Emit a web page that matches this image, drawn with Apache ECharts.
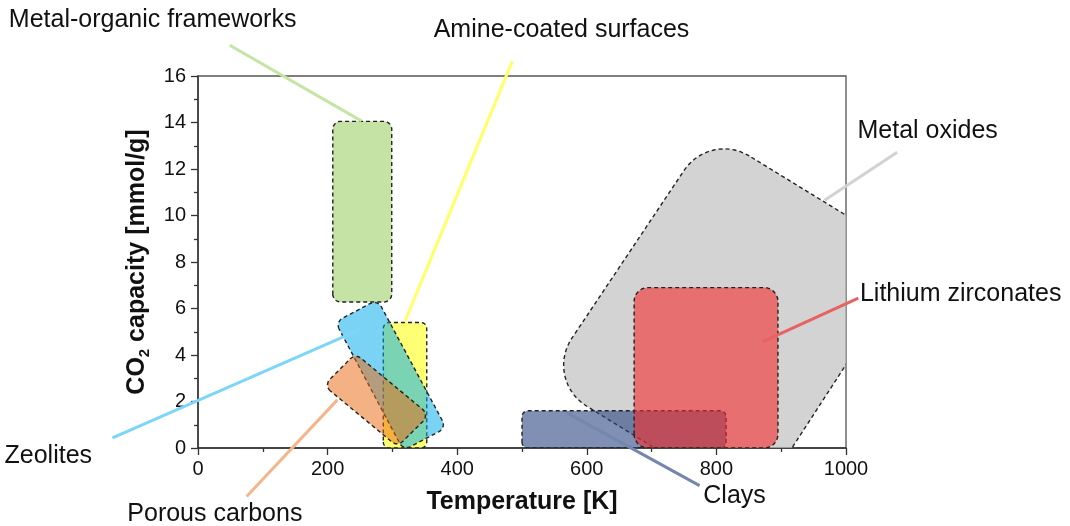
<!DOCTYPE html>
<html>
<head>
<meta charset="utf-8">
<script src="https://cdn.jsdelivr.net/npm/echarts@6/dist/echarts.min.js"></script>
<style>
  html, body { margin: 0; padding: 0; background: #ffffff; }
  #chart { width: 1070px; height: 526px; }
</style>
</head>
<body>
<div id="chart"></div>
<script>
// CO2 sorbent families: working temperature [K] against CO2 capacity [mmol/g]
const categories = [
  'Metal oxides', 'Clays', 'Lithium zirconates', 'Metal-organic frameworks',
  'Amine-coated surfaces', 'Zeolites', 'Porous carbons'
];

// Region outlines, corner points as [temperature K, capacity mmol/g]
const metalOxides = [[790, 13.6], [534, 2.93], [856, -2.6], [1107, 8.18]];
const clays = [[500, 0], [815, 0], [815, 1.6], [500, 1.6]];
const lithiumZirconates = [[673, 0], [895, 0], [895, 6.9], [673, 6.9]];
const metalOrganicFrameworks = [[208, 6.28], [299, 6.28], [299, 14.05], [208, 14.05]];
const amineCoatedSurfaces = [[286, 0], [353, 0], [353, 5.4], [286, 5.4]];
const zeolites = [[212, 5.42], [277, 6.38], [383, 0.87], [317, -0.1]];
const porousCarbons = [[194, 2.69], [243, 4.06], [357, 1.42], [308, 0.06]];

const regions = [metalOxides, clays, lithiumZirconates, metalOrganicFrameworks,
  amineCoatedSurfaces, zeolites, porousCarbons];

// Leader lines: [label end, region end] in the same units
const leaderMetalOxides = [[1079, 12.72], [967, 10.66]];
const leaderClays = [[774, -1.62], [569, 1.52]];
const leaderLithium = [[1019, 6.45], [871, 4.56]];
const leaderMOF = [[49, 17.32], [252, 14.07]];
const leaderAmine = [[485, 16.63], [319, 5.42]];
const leaderZeolites = [[-132, 0.44], [249, 5.08]];
const leaderCarbons = [[75, -2.09], [215, 2.07]];

const leaders = [leaderMetalOxides, leaderClays, leaderLithium, leaderMOF,
  leaderAmine, leaderZeolites, leaderCarbons];

// Label centres
const labelPoints = [[1126, 13.62], [828, -2.09], [1177, 6.63], [-70, 18.39],
  [561, 17.96], [-231, -0.33], [26, -2.86]];

// Axis ranges
const xRange = [0, 1000];
const yRange = [0, 16];

// ---- styling ----
const fills = [
  'rgba(192,192,192,0.7)', 'rgba(42,70,130,0.6)', 'rgba(245,45,45,0.6)',
  'rgba(140,200,75,0.5)', 'rgba(255,255,0,0.55)', 'rgba(0,170,236,0.52)',
  'rgba(234,105,17,0.52)'
];
const cornerRadius = [48, 6, 14, 8, 6, 8, 8];
const leaderColors = ['#d2d2d2', '#7587ad', '#e86262', '#c5e5a5', '#ffff66', '#7dd6f7', '#f5b48a'];
const FONT = '"Liberation Sans", Arial, Helvetica, sans-serif';

// Polygon with circular-arc corners, worked out in pixel space
function roundedPoints(pts, r) {
  const out = [];
  const n = pts.length;
  for (let i = 0; i < n; i++) {
    const p = pts[i], a = pts[(i + n - 1) % n], b = pts[(i + 1) % n];
    const ax = a[0] - p[0], ay = a[1] - p[1], bx = b[0] - p[0], by = b[1] - p[1];
    const la = Math.hypot(ax, ay), lb = Math.hypot(bx, by);
    const uax = ax / la, uay = ay / la, ubx = bx / lb, uby = by / lb;
    const cosT = Math.max(-1, Math.min(1, uax * ubx + uay * uby));
    const theta = Math.acos(cosT);
    let t = r / Math.tan(theta / 2);
    t = Math.min(t, la / 2, lb / 2);
    const rr = t * Math.tan(theta / 2);
    const t1 = [p[0] + uax * t, p[1] + uay * t];
    const t2 = [p[0] + ubx * t, p[1] + uby * t];
    let bxs = uax + ubx, bys = uay + uby;
    const bl = Math.hypot(bxs, bys);
    bxs /= bl; bys /= bl;
    const cd = rr / Math.sin(theta / 2);
    const c = [p[0] + bxs * cd, p[1] + bys * cd];
    const a1 = Math.atan2(t1[1] - c[1], t1[0] - c[0]);
    const a2 = Math.atan2(t2[1] - c[1], t2[0] - c[0]);
    let d = a2 - a1;
    while (d > Math.PI) d -= 2 * Math.PI;
    while (d < -Math.PI) d += 2 * Math.PI;
    const steps = 14;
    for (let k = 0; k <= steps; k++) {
      const ang = a1 + d * k / steps;
      out.push([c[0] + rr * Math.cos(ang), c[1] + rr * Math.sin(ang)]);
    }
  }
  return out;
}

const chart = echarts.init(document.getElementById('chart'), null, { renderer: 'canvas' });

const option = {
  animation: false,
  backgroundColor: '#ffffff',
  grid: {
    left: 198, right: 224, top: 76, bottom: 78,
    show: true, borderColor: '#555555', borderWidth: 1.3, backgroundColor: 'transparent'
  },
  xAxis: {
    type: 'value', min: xRange[0], max: xRange[1], interval: 200,
    name: 'Temperature [K]', nameLocation: 'middle', nameGap: 42,
    nameTextStyle: { fontFamily: FONT, fontSize: 25, fontWeight: 'bold', color: '#111' },
    axisLine: { show: true, onZero: false, lineStyle: { color: '#333', width: 1.5 } },
    axisTick: { show: true, inside: false, length: 7, lineStyle: { color: '#333', width: 1.3 } },
    minorTick: { show: true, splitNumber: 2, length: 4, lineStyle: { color: '#333', width: 1.3 } },
    splitLine: { show: false },
    axisLabel: { fontFamily: FONT, fontSize: 20, color: '#111', margin: 11, formatter: v => String(v) }
  },
  yAxis: {
    type: 'value', min: yRange[0], max: yRange[1], interval: 2,
    name: '{a|CO}{s|2}{a| capacity [mmol/g]}', nameLocation: 'middle', nameGap: 46,
    nameRotate: 90,
    nameTextStyle: {
      rich: {
        a: { fontFamily: FONT, fontSize: 25, fontWeight: 'bold', color: '#111', lineHeight: 30 },
        s: { fontFamily: FONT, fontSize: 15, fontWeight: 'bold', color: '#111', lineHeight: 14, verticalAlign: 'bottom' }
      }
    },
    axisLine: { show: true, onZero: false, lineStyle: { color: '#333', width: 1.5 } },
    axisTick: { show: true, inside: false, length: 7, lineStyle: { color: '#333', width: 1.3 } },
    minorTick: { show: true, splitNumber: 2, length: 4, lineStyle: { color: '#333', width: 1.3 } },
    splitLine: { show: false },
    axisLabel: { fontFamily: FONT, fontSize: 20, color: '#111', margin: 12, formatter: v => String(v) }
  },
  series: [
    {
      // shaded regions, clipped to the plotting area
      type: 'custom',
      clip: true,
      z: 2,
      data: regions.map((_, i) => [i]),
      renderItem: function (params, api) {
        const i = params.dataIndex;
        const px = regions[i].map(pt => api.coord(pt));
        return {
          type: 'polygon',
          shape: { points: roundedPoints(px, cornerRadius[i]) },
          style: { fill: fills[i], stroke: '#222222', lineWidth: 1.4, lineDash: [4, 3] }
        };
      }
    },
    {
      // leader lines out to the labels
      type: 'custom',
      clip: false,
      z: 5,
      data: leaders.map((_, i) => [i]),
      renderItem: function (params, api) {
        const i = params.dataIndex;
        const p0 = api.coord(leaders[i][0]);
        const p1 = api.coord(leaders[i][1]);
        return {
          type: 'line',
          shape: { x1: p0[0], y1: p0[1], x2: p1[0], y2: p1[1] },
          style: { stroke: leaderColors[i], lineWidth: 3 }
        };
      }
    },
    {
      // category names
      type: 'custom',
      clip: false,
      z: 6,
      data: labelPoints.map((_, i) => [i]),
      renderItem: function (params, api) {
        const i = params.dataIndex;
        const p = api.coord(labelPoints[i]);
        return {
          type: 'text',
          x: p[0], y: p[1],
          style: {
            text: categories[i], fill: '#111',
            font: '25px ' + FONT, align: 'center', verticalAlign: 'middle'
          }
        };
      }
    }
  ]
};

chart.setOption(option);
</script>
</body>
</html>
